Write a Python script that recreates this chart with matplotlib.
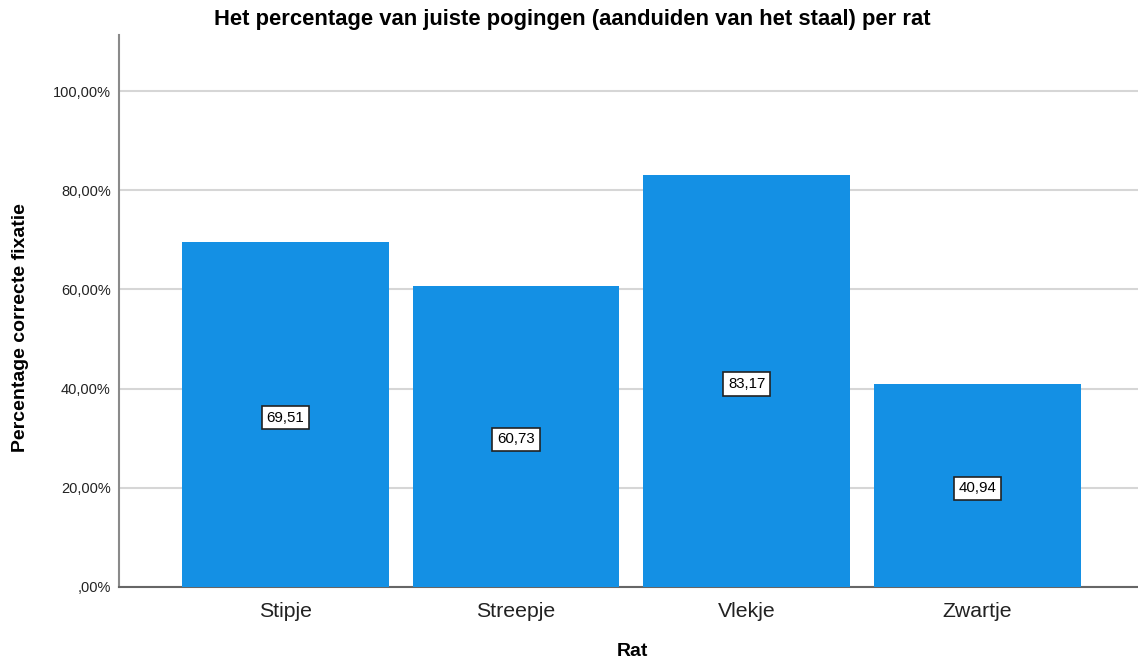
import matplotlib
matplotlib.use("Agg")
import matplotlib.pyplot as plt
from matplotlib.ticker import FuncFormatter

plt.rcParams['font.family'] = ['Liberation Sans', 'DejaVu Sans']

categories = ["Stipje", "Streepje", "Vlekje", "Zwartje"]
values = [69.51, 60.73, 83.17, 40.94]
yticks = [0, 20, 40, 60, 80, 100]

title = "Het percentage van juiste pogingen (aanduiden van het staal) per rat"
xlabel = "Rat"
ylabel = "Percentage correcte fixatie"


def pct(v, p):
    s = ("%.2f%%" % v).replace(".", ",")
    return s[1:] if s.startswith("0,") else s


fig = plt.figure(figsize=(11.38, 6.64), dpi=100)
ax = fig.add_axes([119/1138, 1-587/664, 1-119/1138, (587-35)/664])

x = list(range(len(categories)))
ax.bar(x, values, width=207/231, color="#1490e4", zorder=3)
ax.set_xlim(-0.72, 3.695)
ax.set_ylim(0, 111.3)

ax.set_yticks(yticks)
ax.yaxis.set_major_formatter(FuncFormatter(pct))
ax.set_xticks(x)
ax.set_xticklabels(categories, fontsize=15.3, color="#222222")
ax.tick_params(axis='x', length=0, pad=11)
ax.tick_params(axis='y', length=0, pad=6, labelsize=10.5, labelcolor="#222222")

ax.grid(axis='y', color="#d6d6d6", linewidth=1.5, zorder=0)
ax.set_axisbelow(True)
for s in ["top", "right"]:
    ax.spines[s].set_visible(False)
ax.spines["left"].set_color("#8a8a8a")
ax.spines["left"].set_linewidth(1.5)
ax.spines["bottom"].set_color("#666666")
ax.spines["bottom"].set_linewidth(1.5)

for xi, v in zip(x, values):
    ax.text(xi, v / 2 - 0.6, ("%.2f" % v).replace(".", ","), ha="center", va="center",
            fontsize=10.8, color="black", zorder=5,
            bbox=dict(boxstyle="square,pad=0.32", facecolor="white", edgecolor="#222222", linewidth=1.2))

fig.text(572/1138, 1-20/664, title, ha="center", va="center", fontsize=15.8, fontweight="bold")
fig.text(632/1138, 1-652/664, xlabel, ha="center", va="center", fontsize=14, fontweight="bold")
fig.text(21/1138, 1-328/664, ylabel, ha="center", va="center", rotation=90, fontsize=14, fontweight="bold")

fig.savefig("out.png", dpi=100)
